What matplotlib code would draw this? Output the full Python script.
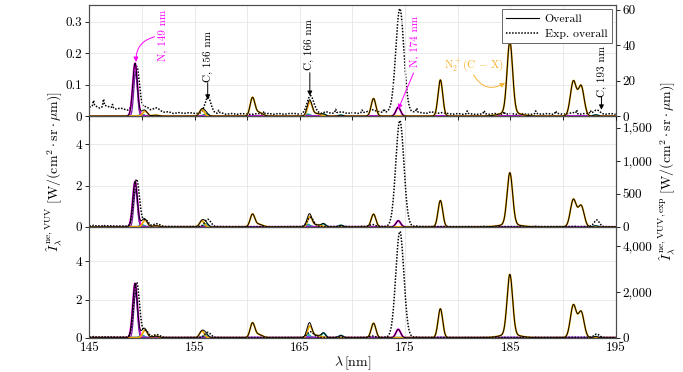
import numpy as np
import matplotlib
matplotlib.use('Agg')
import matplotlib.pyplot as plt
from matplotlib.lines import Line2D
from matplotlib.ticker import FuncFormatter

plt.rcParams['font.family'] = 'serif'
plt.rcParams['font.serif'] = ['cmr10']
plt.rcParams['mathtext.fontset'] = 'cm'
plt.rcParams['axes.formatter.use_mathtext'] = True
plt.rcParams['font.size'] = 9.5

# ---- data ----
lam = np.linspace(145, 195, 2001)

# N I lines (magenta), heights per panel (left axis units)
n_centres = [149.35, 174.35]
n_sigma = [0.22, 0.22]
n_heights = [[0.168, 0.028], [2.2, 0.3], [2.85, 0.44]]

# N I sub-line (purple) inside the 149 nm peak
p_centres = [149.4]
p_sigma = [0.17]
p_heights = [[0.14], [1.8], [2.4]]

# N2+ (C-X) bands (orange)
o_centres = [150.3, 151.3, 155.7, 160.5, 161.1, 165.95, 166.6, 172.0, 178.35, 184.95, 184.95, 190.98, 191.72]
o_sigma = [0.22, 0.3, 0.22, 0.22, 0.35, 0.22, 0.35, 0.22, 0.22, 0.26, 0.9, 0.28, 0.28]
o_heights = [
    [0.016, 0.003, 0.022, 0.057, 0.012, 0.045, 0.008, 0.056, 0.115, 0.225, 0.012, 0.110, 0.095],
    [0.33, 0.06, 0.30, 0.60, 0.13, 0.50, 0.10, 0.62, 1.28, 2.50, 0.13, 1.32, 1.02],
    [0.40, 0.08, 0.35, 0.75, 0.17, 0.60, 0.12, 0.76, 1.52, 3.15, 0.17, 1.70, 1.35],
]

# C I lines (teal)
t_centres = [150.0, 156.1, 165.75, 167.25, 168.9, 193.1]
t_sigma = [0.2, 0.2, 0.2, 0.2, 0.2, 0.2]
t_heights = [
    [0.005, 0.008, 0.006, 0.006, 0.003, 0.004],
    [0.10, 0.15, 0.12, 0.15, 0.08, 0.05],
    [0.13, 0.15, 0.17, 0.24, 0.12, 0.06],
]

# small blue component
b_centres = [150.05, 156.0, 165.9]
b_sigma = [0.2, 0.2, 0.2]
b_heights = [[0.003, 0.003, 0.002], [0.06, 0.06, 0.05], [0.08, 0.06, 0.06]]

# experiment (right axis units)
e_centres = [149.5, 150.35, 151.4, 156.25, 166.0, 171.9, 174.5, 193.2]
e_sigma = [0.27, 0.25, 0.3, 0.28, 0.3, 0.25, 0.38, 0.25]
e_heights = [
    [28, 3, 2, 8.5, 10, 1.5, 58, 2],
    [720, 100, 40, 110, 140, 30, 1600, 100],
    [2400, 300, 120, 220, 250, 60, 4600, 150],
]

# experimental baseline noise (panel 1 units) every 0.5 nm from 145 to 195
noise_lam = np.arange(145, 195.01, 0.5)
noise_vals = [5, 6, 4.5, 6, 5, 4, 4.5, 3.5, 2.5, 0, 1.5, 2.5, 3, 2.5, 2, 2.5, 1.5, 2, 1.5, 2,
              1.5, 1.5, 1.5, 2.5, 1.5, 2, 1, 1.5, 1, 1.5, 1, 1, 1.5, 1, 1.5, 1, 1.5, 1, 1.5, 1.5,
              1, 1.5, 1.5, 2.5, 1.5, 2.5, 1.5, 2, 2.5, 1.5, 2, 1.5, 2, 2.5, 2, 2.5, 2, 2.5, 2.5, 2.5,
              2.5, 2, 2.5, 2, 1.5, 2.5, 1.5, 2, 1.5, 1, 1.5, 1, 1.5, 1, 1, 1.5, 1, 1.5, 1, 1,
              1.5, 1, 1.5, 1, 1, 1.5, 1, 1.5, 1, 1.5, 1, 1.5, 2, 1, 1.5, 1.5, 1.5, 1.5, 1, 1.5, 1]
spike_centres = [145.4, 146.35, 147.2, 157.3, 161.6, 168.4, 170.9, 173.0, 176.1, 180.9,
                 182.5, 184.4, 187.4, 189.3, 191.3, 192.6]
spike_heights = [3, 4, 2, 1.5, 1.5, 2, 1.5, 2, 2, 1.5, 1.5, 1.5, 1.5, 1.5, 2, 1.5]
noise_scale = [1, 3, 6]

left_lims = [0.352, 5.37, 5.81]
right_lims = [62.4, 1676, 4816]
left_ticks = [[0, 0.1, 0.2, 0.3], [0, 2, 4], [0, 2, 4]]
right_ticks = [[0, 20, 40, 60], [0, 500, 1000, 1500], [0, 2000, 4000]]

MAGENTA = '#ff00ff'
PURPLE = '#7a1fa2'
ORANGE = '#f0a800'
TEAL = '#17a39a'
BLUE = '#3b3bff'


def lines(centres, sigmas, heights):
    out = np.zeros_like(lam)
    for c, s, h in zip(centres, sigmas, heights):
        out += h * np.exp(-0.5 * ((lam - c) / s) ** 2)
    return out


fig, axes = plt.subplots(3, 1, figsize=(6.83, 3.72), dpi=100, sharex=True)
fig.subplots_adjust(left=0.1307, right=0.9014, top=0.9857, bottom=0.0922, hspace=0)

twins = []
for i, ax in enumerate(axes):
    n = lines(n_centres, n_sigma, n_heights[i])
    p = lines(p_centres, p_sigma, p_heights[i])
    o = lines(o_centres, o_sigma, o_heights[i])
    t = lines(t_centres, t_sigma, t_heights[i])
    b = lines(b_centres, b_sigma, b_heights[i])
    overall = n + o + t + b

    noise = np.interp(lam, noise_lam, noise_vals)
    noise = noise + lines(spike_centres, [0.05] * len(spike_centres), spike_heights)
    exp = lines(e_centres, e_sigma, e_heights[i]) + noise_scale[i] * noise

    ax.plot(lam, b, color=BLUE, lw=1.2)
    ax.plot(lam, t, color=TEAL, lw=1.3)
    ax.plot(lam, n, color=MAGENTA, lw=1.4)
    ax.plot(lam, p, color=PURPLE, lw=0.9)
    ax.plot(lam, o, color=ORANGE, lw=1.3)
    ax.plot(lam, overall, color='black', lw=0.7)

    axr = ax.twinx()
    axr.plot(lam, exp, color='black', lw=1.1, linestyle=(0, (1, 1)))
    twins.append(axr)

    ax.set_xlim(145, 195)
    ax.set_ylim(0, left_lims[i])
    axr.set_ylim(0, right_lims[i])
    ax.set_yticks(left_ticks[i])
    axr.set_yticks(right_ticks[i])
    ax.yaxis.set_major_formatter(FuncFormatter(lambda v, pos: '0' if v == 0 else f'{v:g}'))
    axr.yaxis.set_major_formatter(FuncFormatter(lambda v, pos: f'{v:,.0f}'))
    ax.set_xticks(np.arange(145, 196, 5))
    ax.grid(True, color='0.9', lw=0.6)
    ax.set_axisbelow(True)
    for a in (ax, axr):
        a.tick_params(direction='out', length=3, width=0.6, labelsize=9.5, pad=2)
        for s in a.spines.values():
            s.set_linewidth(0.8)
            s.set_color('0.3')

axes[2].xaxis.set_major_formatter(FuncFormatter(lambda v, pos: f'{v:.0f}' if round(v) % 10 == 5 else ''))
axes[2].tick_params(axis='x', length=0, pad=3)
axes[2].set_xlabel(r'$\lambda\,[\mathrm{nm}]$', fontsize=10)
axes[2].xaxis.set_label_coords(0.5, -0.155)

axes[1].set_ylabel(r'$\hat{I}_\lambda^{\,\mathrm{ne,VUV}}\;[\mathrm{W}/(\mathrm{cm}^2\cdot\mathrm{sr}\cdot\mu\mathrm{m})]$',
                   fontsize=10, labelpad=8)
twins[1].set_ylabel(r'$\hat{I}_\lambda^{\,\mathrm{ne,VUV,exp}}\;[\mathrm{W}/(\mathrm{cm}^2\cdot\mathrm{sr}\cdot\mu\mathrm{m})]$',
                    fontsize=10, labelpad=3)

# annotations in the top panel (left axis units)
ax = axes[0]
ax.set_zorder(twins[0].get_zorder() + 1)
ax.patch.set_visible(False)
labels = [
    ('N, 149 nm', 152.0, 0.255, MAGENTA),
    ('C, 156 nm', 156.25, 0.19, 'black'),
    ('C, 166 nm', 165.9, 0.226, 'black'),
    ('N, 174 nm', 175.9, 0.236, MAGENTA),
    ('C, 193 nm', 193.65, 0.142, 'black'),
]
for txt, x, y, c in labels:
    ax.text(x, y, txt, rotation=90, ha='center', va='center', color=c, fontsize=8)
ax.text(181.5, 0.163, r'N$_2^+$(C$\,-\,$X)', ha='center', va='center', color='#f5b536', fontsize=8)

arrows = [
    ((151.2, 0.252), (149.45, 0.172), MAGENTA, 0.4),
    ((156.25, 0.106), (156.25, 0.052), 'black', 0.0),
    ((165.95, 0.138), (165.95, 0.064), 'black', 0.0),
    ((175.8, 0.137), (174.35, 0.022), MAGENTA, 0.0),
    ((181.5, 0.131), (184.5, 0.106), '#f5b536', 0.5),
    ((193.65, 0.062), (193.65, 0.02), 'black', 0.0),
]
for start, end, c, rad in arrows:
    ax.annotate('', xy=end, xytext=start,
                arrowprops=dict(arrowstyle='-|>', color=c, lw=0.7, mutation_scale=7,
                                shrinkA=0, shrinkB=0, connectionstyle=f'arc3,rad={rad}'))

handles = [Line2D([], [], color='black', lw=0.8),
           Line2D([], [], color='black', lw=1.1, linestyle=(0, (1, 1)))]
leg = ax.legend(handles, ['Overall', 'Exp. overall'], loc='upper right', fontsize=8.5,
                fancybox=False, framealpha=1, edgecolor='0.4', handlelength=2.8,
                borderaxespad=0.35, borderpad=0.35, labelspacing=0.4, handletextpad=0.5)
leg.get_frame().set_linewidth(0.7)

fig.savefig('out.png', dpi=100)
